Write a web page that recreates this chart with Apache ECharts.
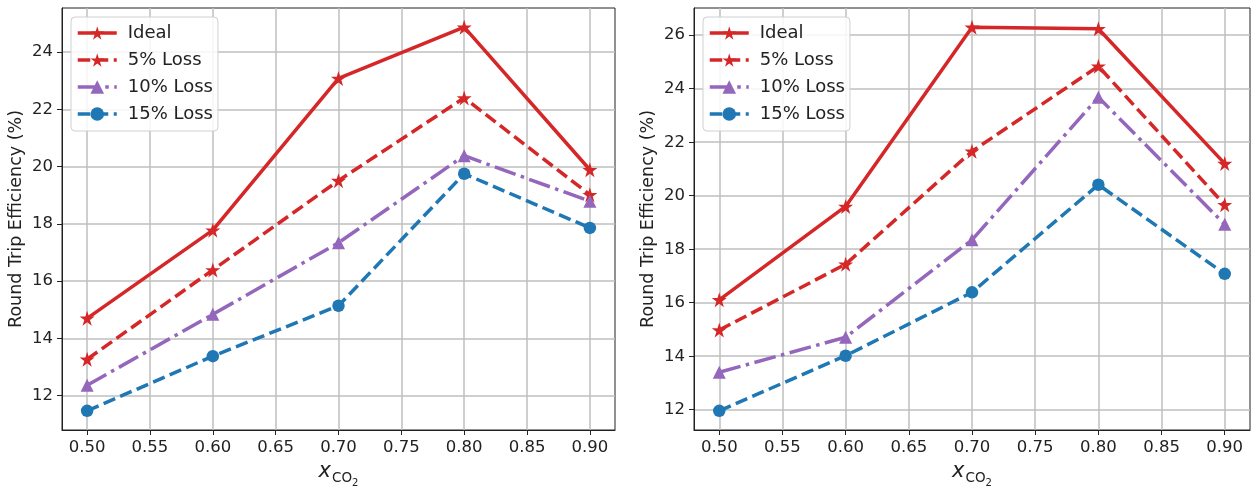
<!DOCTYPE html>
<html>
<head>
<meta charset="utf-8">
<script src="https://cdn.jsdelivr.net/npm/echarts@6/dist/echarts.min.js"></script>
<style>
html,body{margin:0;padding:0;background:#fff;}
#chart{width:1255px;height:493px;}
</style>
</head>
<body>
<div id="chart"></div>
<script>
// ---- data ----
const xValues = [0.50, 0.60, 0.70, 0.80, 0.90];
const xTickValues = [0.50, 0.55, 0.60, 0.65, 0.70, 0.75, 0.80, 0.85, 0.90];
const seriesNames = ['Ideal', '5% Loss', '10% Loss', '15% Loss'];

const leftIdeal  = [14.70, 17.78, 23.08, 24.87, 19.89];
const left5      = [13.27, 16.39, 19.51, 22.40, 19.02];
const left10     = [12.36, 14.84, 17.34, 20.38, 18.79];
const left15     = [11.47, 13.38, 15.14, 19.75, 17.86];
const leftYTicks = [12, 14, 16, 18, 20, 22, 24];

const rightIdeal  = [16.11, 19.60, 26.30, 26.24, 21.20];
const right5      = [14.98, 17.44, 21.66, 24.84, 19.66];
const right10     = [13.40, 14.71, 18.35, 23.68, 18.93];
const right15     = [11.96, 14.02, 16.39, 20.41, 17.08];
const rightYTicks = [12, 14, 16, 18, 20, 22, 24, 26];

const yLabel = 'Round Trip Efficiency (%)';

// ---- styling ----
const FONT = 'DejaVu Sans';
const RED = '#d62728', PURPLE = '#9467bd', BLUE = '#1f77b4';
const STAR = 'path://M12 2 L14.245 8.91 L21.511 8.91 L15.633 13.18 L17.878 20.09 L12 15.82 L6.122 20.09 L8.367 13.18 L2.489 8.91 L9.755 8.91 Z';
const styles = [
  {color: RED, type: 'solid', symbol: STAR, size: 15},
  {color: RED, type: [12.5, 5.5], symbol: STAR, size: 15},
  {color: PURPLE, type: [22, 5.5, 3.5, 5.5], symbol: 'triangle', size: 13},
  {color: BLUE, type: [12.5, 5.5], symbol: 'circle', size: 12.5}
];

function range(arrs) {
  const all = [].concat(...arrs);
  const mn = Math.min(...all), mx = Math.max(...all);
  const m = (mx - mn) * 0.05;
  return [mn - m, mx + m];
}
const xr = [0.48, 0.92];
const ly = range([leftIdeal, left5, left10, left15]);
const ry = range([rightIdeal, right5, right10, right15]);

const gridLine = {show: true, lineStyle: {color: '#bfbfbf', width: 1.5}};
const axisLine = {show: true, lineStyle: {color: '#222', width: 1}};
const tick = (vals) => ({show: true, length: 5, inside: false, customValues: vals, lineStyle: {color: '#222', width: 1}});

function xAxis(gi) {
  return {
    type: 'value', gridIndex: gi, min: xr[0], max: xr[1],
    axisLine: axisLine,
    axisTick: tick(xTickValues),
    axisLabel: {customValues: xTickValues, formatter: v => v.toFixed(2), fontFamily: FONT, fontSize: 16.5, color: '#222', margin: 9},
    splitLine: gridLine,
    name: '{x|x}{s|CO}{t|2}', nameLocation: 'middle', nameGap: 31,
    nameTextStyle: {
      rich: {
        x: {fontFamily: FONT, fontStyle: 'italic', fontSize: 21, color: '#222', verticalAlign: 'bottom', padding: [0, 1, 3, 0]},
        s: {fontFamily: FONT, fontSize: 13.5, color: '#222', verticalAlign: 'bottom', padding: [0, 0, 0, 0]},
        t: {fontFamily: FONT, fontSize: 10, color: '#222', verticalAlign: 'bottom', padding: [0, 0, -3, 0]}
      }
    }
  };
}
function yAxis(gi, r, ticks) {
  return {
    type: 'value', gridIndex: gi, min: r[0], max: r[1],
    axisLine: axisLine,
    axisTick: tick(ticks),
    axisLabel: {customValues: ticks, formatter: v => String(v), fontFamily: FONT, fontSize: 16.5, color: '#222', margin: 9},
    splitLine: gridLine,
    name: yLabel, nameLocation: 'middle', nameGap: 37,
    nameTextStyle: {fontFamily: FONT, fontSize: 17.5, color: '#222'}
  };
}
function makeSeries(gi, arrs) {
  return arrs.map((arr, i) => ({
    name: seriesNames[i], type: 'line', xAxisIndex: gi, yAxisIndex: gi,
    data: xValues.map((x, k) => [x, arr[k]]),
    symbol: styles[i].symbol, symbolSize: styles[i].size, showSymbol: true,
    lineStyle: {color: styles[i].color, width: 3.5, type: styles[i].type},
    itemStyle: {color: styles[i].color, borderWidth: 0},
    emphasis: {disabled: true}, animation: false, z: 2 + i
  }));
}
function legend(left) {
  return {
    data: seriesNames, orient: 'vertical', left: left, top: 17,
    backgroundColor: 'rgba(255,255,255,0.85)', borderColor: '#d0d0d0', borderWidth: 1, borderRadius: 4,
    padding: [6, 5, 7, 5], itemWidth: 39, itemHeight: 17, itemGap: 7,
    lineStyle: {width: 3.5},
    textStyle: {fontFamily: FONT, fontSize: 18, color: '#222', lineHeight: 20, padding: [0, 0, 0, 6]},
    selectedMode: false
  };
}

const chart = echarts.init(document.getElementById('chart'), null, {renderer: 'canvas'});
chart.setOption({
  animation: false,
  backgroundColor: '#fff',
  grid: [
    {left: 62, right: 640, top: 8, bottom: 54, show: true, borderColor: '#222', borderWidth: 1, backgroundColor: 'transparent'},
    {left: 694, right: 5, top: 8, bottom: 51, show: true, borderColor: '#222', borderWidth: 1, backgroundColor: 'transparent'}
  ],
  xAxis: [xAxis(0), xAxis(1)],
  yAxis: [yAxis(0, ly, leftYTicks), yAxis(1, ry, rightYTicks)],
  legend: [legend(71), legend(703)],
  series: [].concat(
    makeSeries(0, [leftIdeal, left5, left10, left15]),
    makeSeries(1, [rightIdeal, right5, right10, right15])
  )
});
</script>
</body>
</html>
